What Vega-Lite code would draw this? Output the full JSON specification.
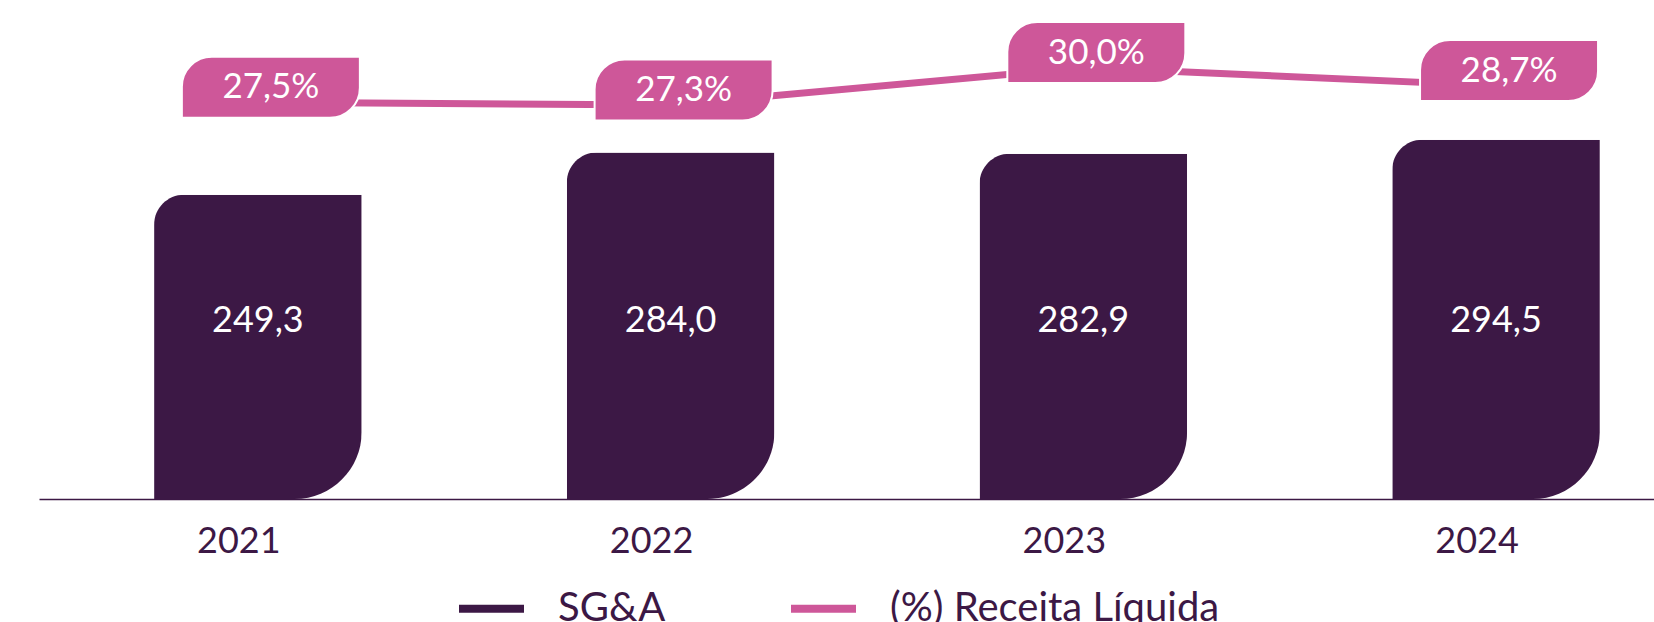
{
  "$schema": "https://vega.github.io/schema/vega-lite/v6.json",
  "width": 1615,
  "height": 499,
  "autosize": {"type": "none"},
  "padding": {"left": 39, "top": 0, "right": 0, "bottom": 123},
  "background": "white",
  "config": {
    "view": {"stroke": null},
    "font": "Lato",
    "locale": {"number": {"decimal": ",", "thousands": ".", "grouping": [3], "currency": ["R$ ", ""]}}
  },
  "data": {"values": [
    {"ano": "2021", "sga": 249.3, "pct": 0.275},
    {"ano": "2022", "sga": 284.0, "pct": 0.273},
    {"ano": "2023", "sga": 282.9, "pct": 0.300},
    {"ano": "2024", "sga": 294.5, "pct": 0.287}
  ]},
  "encoding": {
    "x": {
      "field": "ano",
      "type": "nominal",
      "sort": null,
      "scale": {"paddingInner": 0.497, "paddingOuter": 0.205, "align": 0.68},
      "axis": {
        "title": null,
        "labelAngle": 0,
        "labelFont": "Lato",
        "labelFontSize": 36,
        "labelColor": "#3C1845",
        "labelPadding": 25,
        "labelOffset": -19,
        "domainColor": "#3C1845",
        "domainWidth": 1.5,
        "ticks": false,
        "grid": false
      }
    }
  },
  "layer": [
    {
      "layer": [
        {
          "mark": {"type": "bar", "cornerRadiusTopLeft": 30, "cornerRadiusBottomRight": 67},
          "encoding": {
            "y": {"field": "sga", "type": "quantitative", "scale": {"domain": [0, 409], "nice": false, "zero": true}, "axis": null},
            "color": {
              "datum": "SG&A",
              "type": "nominal",
              "scale": {"domain": ["SG&A", "(%) Receita Líquida"], "range": ["#3C1845", "#CE5799"]},
              "legend": {
                "title": null,
                "orient": "none",
                "legendX": 416,
                "legendY": 572,
                "direction": "horizontal",
                "padding": 0,
                "symbolType": "stroke",
                "symbolSize": 4225,
                "symbolStrokeWidth": 8,
                "labelFont": "Lato",
                "labelFontSize": 40,
                "labelColor": "#3C1845",
                "labelOffset": 30,
                "labelLimit": 600,
                "columnPadding": 109,
                "encode": {"symbols": {"update": {"stroke": {"scale": "color", "field": "value"}, "strokeWidth": {"value": 8}}}}
              }
            }
          }
        },
        {
          "mark": {"type": "text", "color": "white", "fontSize": 36, "font": "Lato", "baseline": "middle", "align": "center"},
          "encoding": {
            "y": {"datum": 146, "type": "quantitative"},
            "text": {"field": "sga", "type": "quantitative", "format": ".1f"}
          }
        }
      ]
    },
    {
      "layer": [
        {
          "mark": {"type": "line", "strokeWidth": 7},
          "encoding": {
            "y": {"field": "pct", "type": "quantitative", "scale": {"domain": [-0.0104, 0.3486], "nice": false, "zero": false}, "axis": null},
            "color": {"datum": "(%) Receita Líquida", "type": "nominal"}
          }
        },
        {
          "mark": {"type": "bar", "color": "#CE5799", "width": 178, "xOffset": 13, "yOffset": -45.5, "y2Offset": 15.5, "cornerRadiusTopLeft": 30, "cornerRadiusBottomRight": 30, "stroke": "white", "strokeWidth": 2},
          "encoding": {
            "y": {"field": "pct", "type": "quantitative"},
            "y2": {"field": "pct"}
          }
        },
        {
          "mark": {"type": "text", "color": "white", "fontSize": 35, "font": "Lato", "baseline": "middle", "align": "center", "dx": 13, "dy": -15},
          "encoding": {
            "y": {"field": "pct", "type": "quantitative"},
            "text": {"field": "pct", "type": "quantitative", "format": ".1%"}
          }
        }
      ]
    }
  ],
  "resolve": {"scale": {"y": "independent"}}
}
